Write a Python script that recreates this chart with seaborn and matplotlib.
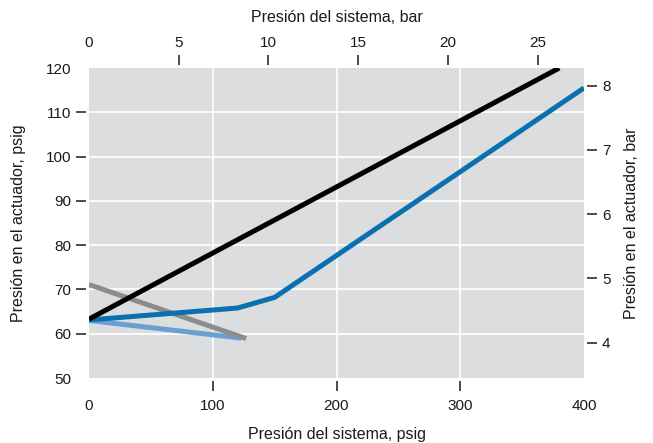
import matplotlib
matplotlib.use("Agg")
import matplotlib.pyplot as plt
import numpy as np
import pandas as pd
import seaborn as sns

# system pressure (psig) vs actuator pressure (psig)
black_x = [0, 380]
black_y = [63.3, 120]

blue_x = [0, 120, 150, 400]
blue_y = [63.1, 65.8, 68.2, 115.5]

lightblue_x = [0, 123]
lightblue_y = [63.0, 59.0]

gray_x = [0, 127]
gray_y = [71.1, 58.9]

PSI_PER_BAR = 14.5

x_ticks = [100, 200, 300]
x_ends = [0, 400]
y_ticks = [60, 70, 80, 90, 100, 110]
y_ends = [50, 120]
bar_x_ticks = [5, 10, 15, 20, 25]
bar_x_ends = [0]
bar_y_ticks = [4, 5, 6, 7, 8]

sns.set_style("white")
plt.rcParams["font.family"] = ["Liberation Sans", "DejaVu Sans"]
txt = "#1a1a1a"
TL, TP = 7, 4

fig = plt.figure(figsize=(6.53, 4.43), dpi=100)
ax = fig.add_subplot(111)
fig.subplots_adjust(left=89 / 653, right=584 / 653, top=1 - 68 / 443, bottom=1 - 378 / 443)

ax.set_facecolor("#dcdddf")
for x in x_ticks:
    ax.axvline(x, color="white", lw=1.2, zorder=0)
for y in y_ticks:
    ax.axhline(y, color="white", lw=1.2, zorder=0)

series = [
    (lightblue_x, lightblue_y, "#6a9fd3"),
    (gray_x, gray_y, "#8c8c8c"),
    (blue_x, blue_y, "#0a70b0"),
    (black_x, black_y, "#000000"),
]
for xs, ys, c in series:
    df = pd.DataFrame({"x": xs, "y": ys})
    sns.lineplot(data=df, x="x", y="y", ax=ax, color=c, lw=3.6,
                 solid_capstyle="butt", sort=False)

ax.set_xlim(0, 400)
ax.set_ylim(50, 120)
ax.set_xticks(x_ticks)
ax.set_xticks(x_ends, labels=[str(v) for v in x_ends], minor=True)
ax.set_yticks(y_ticks)
ax.set_yticks(y_ends, labels=[str(v) for v in y_ends], minor=True)
ax.set_xlabel("Presión del sistema, psig", fontsize=11.5, color=txt, labelpad=10)
ax.set_ylabel("Presión en el actuador, psig", fontsize=11.5, color=txt, labelpad=14)
ax.tick_params(axis="both", which="major", direction="out", length=TL, width=1.1,
               color=txt, labelsize=11, labelcolor=txt, pad=TP)
ax.tick_params(axis="both", which="minor", length=0, labelsize=11,
               labelcolor=txt, pad=TL + TP)
ax.tick_params(axis="x", which="major", pad=TP + 2)
ax.tick_params(axis="x", which="minor", pad=TL + TP + 2)
for sp in ax.spines.values():
    sp.set_visible(False)
ax.spines["bottom"].set_position(("outward", 2))
ax.spines["left"].set_position(("outward", 2))

# secondary scales in bar
axt = ax.twiny()
axt.set_xlim(0, 400 / PSI_PER_BAR)
axt.set_xticks(bar_x_ticks)
axt.set_xticks(bar_x_ends, labels=[str(v) for v in bar_x_ends], minor=True)
axt.set_xlabel("Presión del sistema, bar", fontsize=11.5, color=txt, labelpad=10)
axt.tick_params(axis="x", which="major", direction="out", length=TL, width=1.1,
                color=txt, labelsize=11, labelcolor=txt, pad=TP)
axt.tick_params(axis="x", which="minor", length=0, labelsize=11,
                labelcolor=txt, pad=TL + TP)
for sp in axt.spines.values():
    sp.set_visible(False)
axt.spines["top"].set_position(("outward", 2))

axr = ax.twinx()
axr.set_ylim(50 / PSI_PER_BAR, 120 / PSI_PER_BAR)
axr.set_yticks(bar_y_ticks)
axr.set_ylabel("Presión en el actuador, bar", fontsize=11.5, color=txt, labelpad=10)
axr.tick_params(axis="y", direction="out", length=TL, width=1.1, color=txt,
                labelsize=11, labelcolor=txt, pad=TP)
for sp in axr.spines.values():
    sp.set_visible(False)
axr.spines["right"].set_position(("outward", 2))

fig.savefig("out.png", dpi=100)
